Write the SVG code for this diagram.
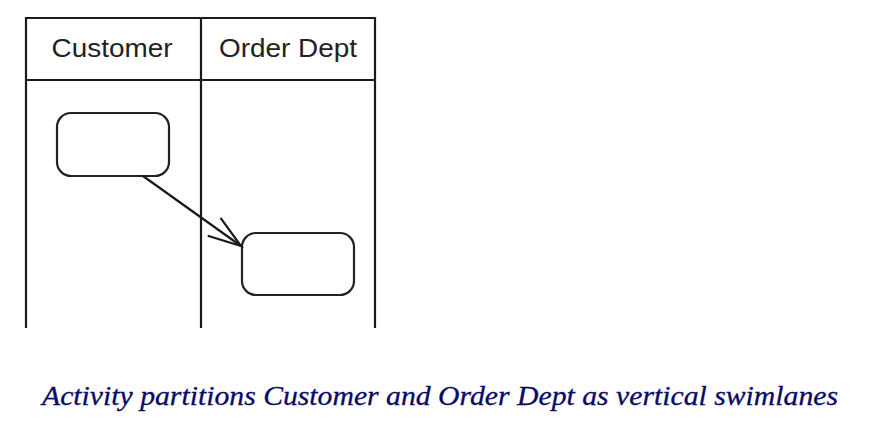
<svg xmlns="http://www.w3.org/2000/svg" width="876" height="428" viewBox="0 0 876 428">
<style>
.ln{stroke:#1a1a1a;stroke-width:2.2;fill:none}
.node{stroke:#222;stroke-width:2.2;fill:#fff}
.hdr{font-family:"Liberation Sans",Arial,sans-serif;font-size:26px;fill:#222;text-anchor:middle}
.cap{font-family:"Liberation Serif","DejaVu Serif",serif;font-style:italic;font-size:27px;fill:#0a0a66;stroke:#0a0a66;stroke-width:0.3;text-anchor:middle}
</style>
<defs>
<marker id="open" viewBox="-2 -2 38 26" refX="33" refY="11" markerWidth="38" markerHeight="26" markerUnits="userSpaceOnUse" orient="auto">
<path d="M0,0 L33,11 L0,22" fill="none" stroke="#1a1a1a" stroke-width="2.2"/>
</marker>
</defs>
<rect width="876" height="428" fill="#fff"/>
<g id="swimlanes">
<path class="ln" d="M26,328 V18 H375 V328"/>
<path class="ln" d="M201,18 V328"/>
<path class="ln" d="M26,80 H375"/>
<text class="hdr" x="112" y="57" textLength="121" lengthAdjust="spacingAndGlyphs">Customer</text>
<text class="hdr" x="288" y="57" textLength="138" lengthAdjust="spacingAndGlyphs">Order Dept</text>
</g>
<g id="node1"><rect class="node" x="57" y="113" width="112" height="63" rx="14"/></g>
<g id="node2"><rect class="node" x="242" y="233" width="112" height="62" rx="14"/></g>
<g id="connectors">
<path class="ln" d="M143,176 L241,246" marker-end="url(#open)"/>
</g>
<text class="cap" x="440" y="405" textLength="796" lengthAdjust="spacingAndGlyphs">Activity partitions Customer and Order Dept as vertical swimlanes</text>
</svg>
